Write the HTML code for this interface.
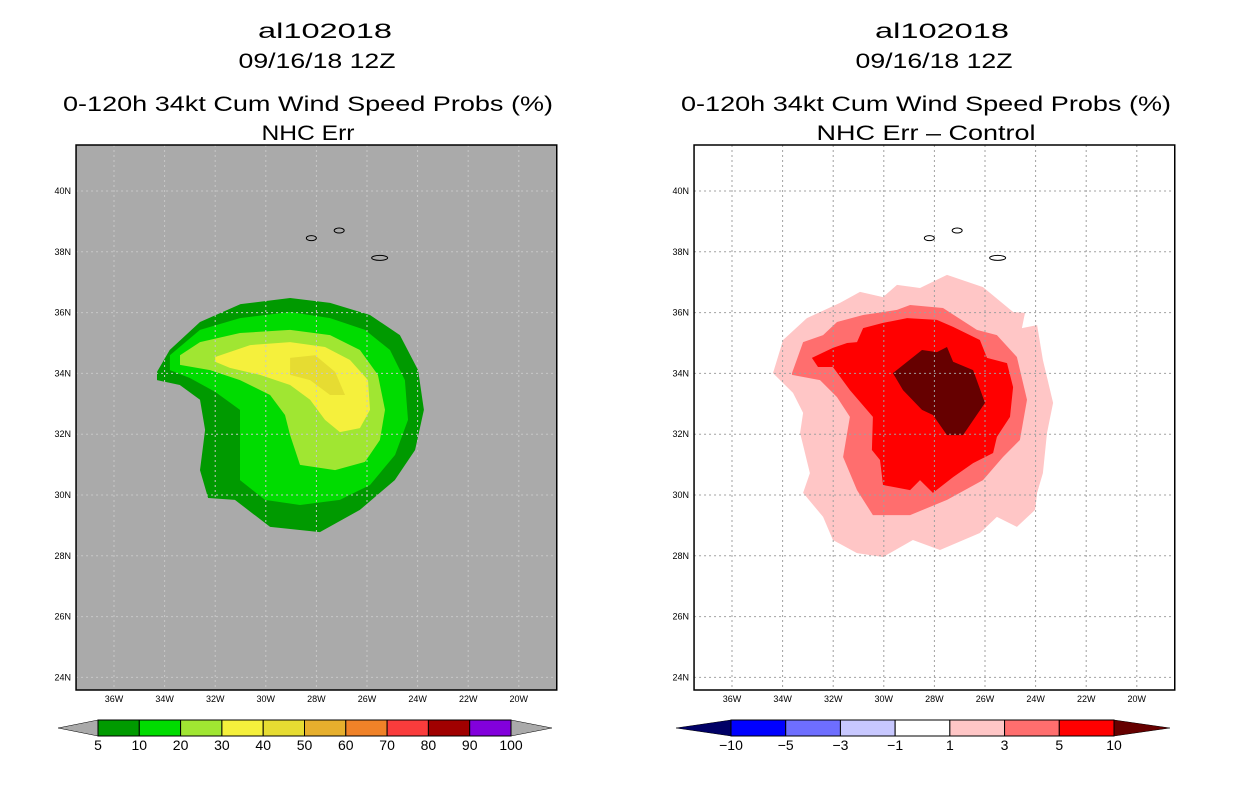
<!DOCTYPE html>
<html><head><meta charset="utf-8">
<style>
html,body{margin:0;padding:0;background:#fff;}
svg{display:block;font-family:"Liberation Sans",sans-serif;}
</style></head>
<body>
<svg id="chart" width="1236" height="800" viewBox="0 0 1236 800">
<g font-size="21" text-anchor="middle" fill="#000">
<text x="325" y="38" textLength="134" lengthAdjust="spacingAndGlyphs">al102018</text>
<text x="317" y="68" textLength="157" lengthAdjust="spacingAndGlyphs">09/16/18 12Z</text>
<text x="308" y="111" textLength="490" lengthAdjust="spacingAndGlyphs">0-120h 34kt Cum Wind Speed Probs (%)</text>
<text x="308" y="140" textLength="93" lengthAdjust="spacingAndGlyphs">NHC Err</text>
</g>
<g font-size="21" text-anchor="middle" fill="#000">
<text x="942" y="38" textLength="134" lengthAdjust="spacingAndGlyphs">al102018</text>
<text x="934" y="68" textLength="157" lengthAdjust="spacingAndGlyphs">09/16/18 12Z</text>
<text x="926" y="111" textLength="490" lengthAdjust="spacingAndGlyphs">0-120h 34kt Cum Wind Speed Probs (%)</text>
<text x="926" y="140" textLength="219" lengthAdjust="spacingAndGlyphs">NHC Err – Control</text>
</g>
<g id="leftPanel"></g>
<g id="rightPanel"></g>
<g id="leftBar"></g>
<g id="rightBar"></g>
</svg>
<script>
const lonTicks=[36,34,32,30,28,26,24,22,20];
const latTicks=[40,38,36,34,32,30,28,26,24];
const leftLevels=[5,10,20,30,40];
const leftColors=['#009a00','#00dc00','#a0e632','#f5f03c','#e6dc32'];
const left5=[[34.3,34.05],[33.8,34.77],[32.6,35.69],[31.0,36.28],[29.04,36.48],[27.46,36.32],[25.88,35.92],[24.7,35.26],[23.98,34.11],[23.75,32.8],[24.1,31.48],[24.9,30.49],[26.28,29.51],[27.86,28.78],[29.83,28.95],[31.22,29.84],[32.28,29.9],[32.6,30.82],[32.4,32.14],[32.6,33.13],[33.4,33.62],[34.3,33.78]];
const left10=[[33.79,34.6],[32.6,35.43],[31.02,35.82],[29.04,36.02],[27.46,35.82],[26.08,35.43],[25.09,34.77],[24.5,33.78],[24.38,32.47],[24.89,31.32],[25.88,30.33],[27.07,29.84],[28.65,29.67],[30.03,29.84],[31.02,30.49],[31.02,31.81],[31.02,32.8],[32.0,33.39],[33.0,33.85],[33.79,34.11]];
const left20=[[33.39,34.6],[32.6,35.03],[31.02,35.33],[29.04,35.43],[27.46,35.26],[26.28,34.77],[25.57,33.95],[25.29,32.8],[25.49,31.81],[26.08,31.09],[27.26,30.82],[28.65,30.99],[29.04,31.97],[29.24,32.63],[29.83,33.29],[31.02,33.78],[32.2,34.11],[33.39,34.28]];
const left30=[[32.0,34.54],[30.62,34.93],[29.04,35.03],[27.66,34.87],[26.67,34.44],[25.96,33.78],[25.88,32.8],[26.28,32.2],[27.07,32.07],[27.66,32.47],[28.25,33.13],[29.04,33.62],[30.23,33.95],[31.42,34.18],[32.0,34.38]];
const left40=[[29.04,34.51],[28.05,34.6],[27.26,34.05],[26.87,33.29],[27.46,33.29],[28.25,33.78],[29.04,33.95]];
const rightLevels=[1,3,5,10];
const rightColors=['#ffc6c6','#ff6e6e','#ff0000','#660000'];
const right1=[[34.38,34.01],[33.98,35.10],[33.04,35.82],[31.73,36.32],[30.94,36.68],[30.03,36.51],[29.48,36.91],[28.57,36.81],[27.50,37.24],[26.08,36.84],[24.89,36.02],[24.42,35.99],[24.54,35.49],[23.94,35.59],[23.71,34.44],[23.31,33.03],[23.55,32.04],[23.71,30.72],[23.94,30.07],[24.02,29.51],[24.74,28.95],[25.53,29.28],[26.2,28.75],[27.78,28.19],[28.85,28.52],[30.03,27.96],[31.06,28.09],[32.01,28.52],[32.4,29.28],[33.19,30.07],[32.92,30.72],[33.31,32.04],[33.19,32.7],[33.59,33.36]];
const right3=[[33.63,34.01],[33.19,35.03],[32.40,35.26],[31.85,35.69],[30.82,35.92],[29.48,36.09],[28.96,36.25],[27.66,36.15],[26.32,35.43],[25.53,35.26],[24.74,34.54],[24.34,33.13],[24.62,31.81],[25.29,31.25],[26.08,30.49],[27.5,29.84],[28.96,29.34],[30.43,29.34],[31.06,30.16],[31.61,31.25],[31.34,32.57],[31.85,33.22],[32.52,33.78],[33.63,33.95]];
const right5=[[32.84,34.51],[32.01,34.84],[31.45,35.0],[31.06,35.03],[30.82,35.49],[30.03,35.66],[29.08,35.82],[27.9,35.76],[27.26,35.53],[26.2,35.1],[25.92,34.51],[25.13,34.34],[24.89,33.55],[25.01,32.57],[25.53,31.91],[25.68,31.38],[26.47,31.05],[27.26,30.59],[28.06,30.07],[28.57,30.49],[28.96,30.16],[30.03,30.33],[30.15,31.15],[30.47,31.48],[30.43,32.57],[31.34,33.45],[32.01,34.21],[32.6,34.21]];
const right10=[[29.64,34.01],[28.49,34.77],[27.9,34.7],[27.5,34.87],[27.26,34.38],[26.47,34.11],[26.0,33.03],[26.87,31.97],[27.5,31.97],[28.06,32.63],[28.49,32.8],[29.24,33.45]];
const islands=[[28.2,38.45],[27.1,38.7],[25.5,37.8]];
const leftBarLabels=['5','10','20','30','40','50','60','70','80','90','100'];
const leftBarColors=['#009a00','#00dc00','#a0e632','#f5f03c','#e6dc32','#e6af2d','#f08228','#fa3c3c','#a00000','#8200dc'];
const rightBarLabels=['−10','−5','−3','−1','1','3','5','10'];
const rightBarColors=['#0000ff','#6e6eff','#c8c8ff','#ffffff','#ffc6c6','#ff6e6e','#ff0000'];

const NS='http://www.w3.org/2000/svg';
function mk(tag,attrs,parent){const e=document.createElementNS(NS,tag);for(const k in attrs)e.setAttribute(k,attrs[k]);parent.appendChild(e);return e;}
function xScale(x0){return w=>x0+(36-w)*25.3;}
function yScale(lat){return 191+(40-lat)*30.4;}

function panel(g,fx,bg,polys,cols,grid,kind){
  const L=fx(37.5), R=fx(18.5);
  const bgRect=mk('rect',{x:L,y:145,width:R-L,height:545,fill:bg},g);
  
  
  const clipId=kind+'clip';
  const cp=mk('clipPath',{id:clipId},g);mk('rect',{x:L,y:145,width:R-L,height:545},cp);
  const cg=mk('g',{'clip-path':'url(#'+clipId+')'},g);
  polys.forEach((p,i)=>{
    const el=mk('polygon',{points:p.map(q=>fx(q[0]).toFixed(1)+','+yScale(q[1]).toFixed(1)).join(' '),fill:cols[i]},cg);
    
    
  });
  lonTicks.forEach(w=>{
    const x=fx(w);
    mk('line',{x1:x,y1:145,x2:x,y2:690,stroke:grid,'stroke-width':1,'stroke-dasharray':'2,3'},cg);
    const t=mk('text',{x:x,y:702,'font-size':9,'text-anchor':'middle'},g);t.textContent=w+'W';
    
    
  });
  latTicks.forEach(lat=>{
    const y=yScale(lat);
    mk('line',{x1:L,y1:y,x2:R,y2:y,stroke:grid,'stroke-width':1,'stroke-dasharray':'2,3'},cg);
    const t=mk('text',{x:L-5,y:y+3,'font-size':9,'text-anchor':'end'},g);t.textContent=lat+'N';
    
    
  });
  islands.forEach((s,i)=>{
    const e=mk('ellipse',{cx:fx(s[0]),cy:yScale(s[1]),rx:i==2?8:5,ry:2.5,fill:'none',stroke:'#000','stroke-width':1},cg);
    
    
  });
  mk('rect',{x:L,y:145,width:R-L,height:545,fill:'none',stroke:'#000','stroke-width':1.5},g);
}
panel(document.getElementById('leftPanel'),xScale(114),'#aaaaaa',[left5,left10,left20,left30,left40],leftColors,'#c8c8c8','left');
panel(document.getElementById('rightPanel'),xScale(732),'#ffffff',[right1,right3,right5,right10],rightColors,'#a0a0a0','right');

function bar(g,x0,x1,tl,tr,colors,labels,lc,rc,kind){
  const n=colors.length,w=(x1-x0)/n,y=720,h=16;
  mk('polygon',{points:`${tl},${y+h/2} ${x0},${y} ${x0},${y+h}`,fill:lc,stroke:'#000','stroke-width':0.5},g);
  mk('polygon',{points:`${tr},${y+h/2} ${x1},${y} ${x1},${y+h}`,fill:rc,stroke:'#000','stroke-width':0.5},g);
  colors.forEach((c,i)=>{
    const r=mk('rect',{x:x0+i*w,y:y,width:w,height:h,fill:c,stroke:'#000','stroke-width':1},g);
    
    
  });
  labels.forEach((l,i)=>{
    const t=mk('text',{x:x0+i*w,y:750,'font-size':14,'text-anchor':'middle'},g);t.textContent=l;
    
    
  });
}
bar(document.getElementById('leftBar'),98,511,58,552,leftBarColors,leftBarLabels,'#aaaaaa','#aaaaaa','left');
bar(document.getElementById('rightBar'),731,1114,676,1170,rightBarColors,rightBarLabels,'#000066','#660000','right');
</script>
</body></html>
